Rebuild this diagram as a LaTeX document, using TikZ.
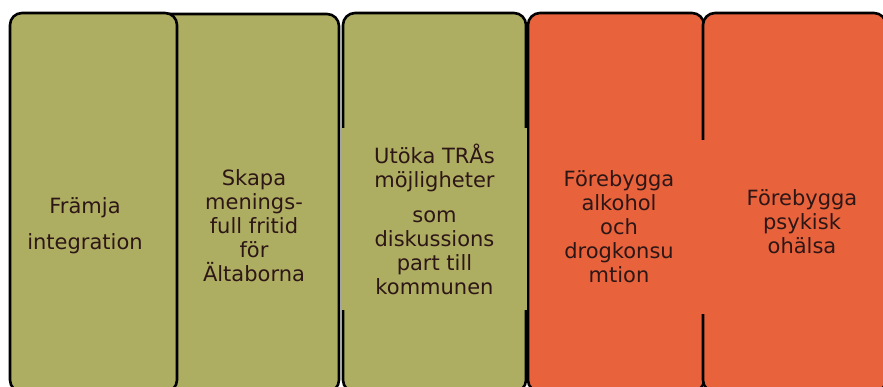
\documentclass[tikz,border=0pt]{standalone}
\usepackage{fontspec}
\setmainfont{DejaVu Sans}
\definecolor{goalgreen}{RGB}{174,174,98}
\definecolor{goalred}{RGB}{232,98,60}
\definecolor{goalink}{RGB}{45,22,22}

\begin{document}
\begin{tikzpicture}[x=1pt,y=-1pt,
    pillar/.style={draw=black,line width=2.6pt,rounded corners=12pt},
    goaltext/.style={text=goalink,align=center,inner sep=0pt,
        font=\fontsize{21}{24}\selectfont}]
    \clip (0,0) rectangle (883,387);

    % the five pillars, back to front
    \draw[pillar,fill=goalgreen] (150,14) rectangle (339,392);
    \draw[pillar,fill=goalgreen] (10,13) rectangle (177,392);
    \draw[pillar,fill=goalgreen] (343,13) rectangle (526,392);
    \draw[pillar,fill=goalred] (528,13) rectangle (704,392);
    \draw[pillar,fill=goalred] (703,13) rectangle (886,392);

    % texts
    \node[goaltext] (integr) at (85,226) {Främja\\[12pt]integration};
    \node[goaltext] (fritid) at (254,226) {Skapa\\menings-\\full fritid\\för\\Ältaborna};
    \node[goaltext,fill=goalgreen,minimum width=185pt,minimum height=182pt]
        (tra) at (434.5,219) {Utöka TRÅs\\möjligheter\\[11pt]som\\diskussions\\part till\\kommunen};
    \node[goaltext,fill=goalred,minimum width=178pt,minimum height=174pt]
        (drog) at (619,227) {Förebygga\\alkohol\\och\\drogkonsu\\mtion};
    \node[goaltext] (halsa) at (802,222) {Förebygga\\psykisk\\ohälsa};
\end{tikzpicture}
\end{document}
